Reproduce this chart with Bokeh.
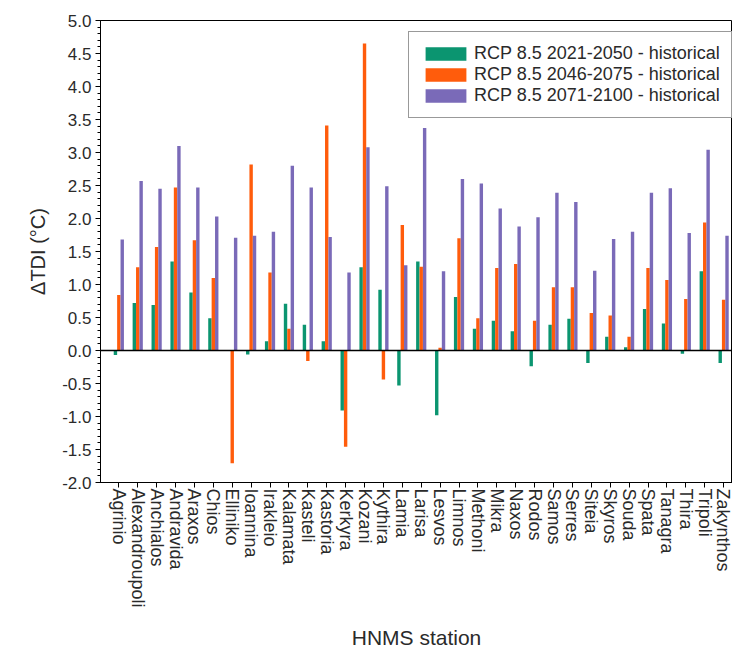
import numpy as np
from bokeh.plotting import figure
from bokeh.models import (ColumnDataSource, Range1d, FixedTicker, SingleIntervalTicker,
                          PrintfTickFormatter, Span, Legend, LegendItem)
from bokeh.transform import dodge
from bokeh.embed import file_html
from bokeh.resources import INLINE

stations = ["Agrinio", "Alexandroupoli", "Anchialos", "Andravida", "Araxos", "Chios",
            "Elliniko", "Ioannina", "Irakleio", "Kalamata", "Kasteli", "Kastoria",
            "Kerkyra", "Kozani", "Kythira", "Lamia", "Larisa", "Lesvos", "Limnos",
            "Methoni", "Mikra", "Naxos", "Rodos", "Samos", "Serres", "Siteia", "Skyros",
            "Souda", "Spata", "Tanagra", "Thira", "Tripoli", "Zakynthos"]

rcp_2021_2050 = [-0.07, 0.72, 0.69, 1.35, 0.88, 0.49, 0.00, -0.06, 0.14, 0.71, 0.39, 0.14,
                 -0.91, 1.26, 0.92, -0.53, 1.35, -0.98, 0.81, 0.33, 0.45, 0.29, -0.24, 0.39,
                 0.48, -0.19, 0.21, 0.05, 0.63, 0.41, -0.05, 1.20, -0.19]
rcp_2046_2075 = [0.84, 1.26, 1.57, 2.47, 1.67, 1.10, -1.71, 2.82, 1.18, 0.33, -0.16, 3.41,
                 -1.46, 4.65, -0.44, 1.90, 1.27, 0.04, 1.70, 0.49, 1.25, 1.31, 0.45, 0.96,
                 0.96, 0.57, 0.53, 0.21, 1.25, 1.07, 0.78, 1.94, 0.77]
rcp_2071_2100 = [1.68, 2.57, 2.45, 3.10, 2.47, 2.03, 1.71, 1.74, 1.80, 2.80, 2.47, 1.72,
                 1.18, 3.08, 2.49, 1.29, 3.37, 1.20, 2.60, 2.53, 2.15, 1.88, 2.02, 2.39,
                 2.25, 1.21, 1.69, 1.80, 2.39, 2.46, 1.78, 3.04, 1.74]

series_labels = ["RCP 8.5 2021-2050 - historical",
                 "RCP 8.5 2046-2075 - historical",
                 "RCP 8.5 2071-2100 - historical"]
colors = ["#0B9570", "#FF5C0C", "#7A6AB8"]

idx = list(range(len(stations)))
source = ColumnDataSource(dict(idx=idx, s1=rcp_2021_2050, s2=rcp_2046_2075, s3=rcp_2071_2100))

FONT = "Liberation Sans"
TXT = "#2a2a2a"

p = figure(frame_width=632, frame_height=462,
           x_range=Range1d(-0.97, 32.47), y_range=Range1d(-2, 5),
           output_backend="svg", toolbar_location=None,
           min_border_left=100, min_border_top=20, min_border_right=0, min_border_bottom=172)
p.xgrid.visible = False
p.ygrid.visible = False
p.outline_line_color = "black"
p.outline_line_width = 1
p.background_fill_color = "white"
p.border_fill_color = "white"

bw = 0.18
r1 = p.vbar(x=dodge("idx", -0.18, range=p.x_range), top="s1", bottom=0, width=bw,
            source=source, fill_color=colors[0], line_color=None)
r2 = p.vbar(x=dodge("idx", 0.0, range=p.x_range), top="s2", bottom=0, width=bw,
            source=source, fill_color=colors[1], line_color=None)
r3 = p.vbar(x=dodge("idx", 0.18, range=p.x_range), top="s3", bottom=0, width=bw,
            source=source, fill_color=colors[2], line_color=None)

p.add_layout(Span(location=0, dimension="width", line_color="black", line_width=1.5))

# x axis
xa = p.xaxis[0]
xa.ticker = FixedTicker(ticks=idx, minor_ticks=[])
xa.major_label_overrides = {i: s for i, s in zip(idx, stations)}
xa.major_label_orientation = "vertical"
xa.major_label_text_font = FONT
xa.major_label_text_font_size = "18px"
xa.major_label_text_color = TXT
xa.major_label_standoff = 1
xa.major_tick_out = 5
xa.major_tick_in = 0
xa.axis_line_color = "black"
xa.major_tick_line_color = "black"
xa.axis_label = "HNMS station"
xa.axis_label_text_font = FONT
xa.axis_label_text_font_size = "21px"
xa.axis_label_text_font_style = "normal"
xa.axis_label_text_color = TXT
xa.axis_label_standoff = 15

# y axis
ya = p.yaxis[0]
ya.ticker = SingleIntervalTicker(interval=0.5, num_minor_ticks=5)
ya.formatter = PrintfTickFormatter(format="%.1f")
ya.major_label_text_font = FONT
ya.major_label_text_font_size = "17px"
ya.major_label_text_color = TXT
ya.major_label_standoff = 4
ya.major_tick_out = 5
ya.major_tick_in = 0
ya.minor_tick_out = 3
ya.minor_tick_in = 0
ya.axis_line_color = "black"
ya.major_tick_line_color = "black"
ya.minor_tick_line_color = "black"
ya.axis_label = "ΔTDI (°C)"
ya.axis_label_text_font = FONT
ya.axis_label_text_font_size = "20px"
ya.axis_label_text_font_style = "normal"
ya.axis_label_text_color = TXT
ya.axis_label_standoff = 10

legend = Legend(items=[LegendItem(label=series_labels[0], renderers=[r1]),
                       LegendItem(label=series_labels[1], renderers=[r2]),
                       LegendItem(label=series_labels[2], renderers=[r3])],
                location=(308, 364), margin=0, padding=11, spacing=0,
                glyph_width=51, glyph_height=17, label_height=14, label_width=246,
                label_standoff=3,
                label_text_font=FONT, label_text_font_size="18px", label_text_color=TXT,
                border_line_color="#333333", border_line_width=1,
                background_fill_color="white", background_fill_alpha=1)
p.add_layout(legend)

open("out.html", "w").write(file_html(p, INLINE))
